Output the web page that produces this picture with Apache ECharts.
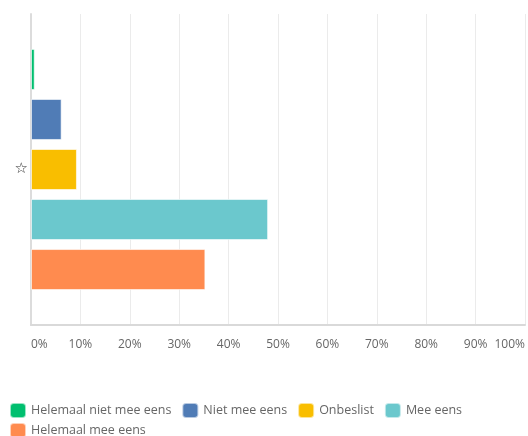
<!DOCTYPE html>
<html>
<head>
<meta charset="utf-8">
<script src="https://cdn.jsdelivr.net/npm/echarts@6/dist/echarts.min.js"></script>
<style>
html,body{margin:0;padding:0;background:#fff;}
#chart{width:528px;height:436px;}
</style>
</head>
<body>
<div id="chart"></div>
<script>
const categories = ['☆'];
const seriesNames = ['Helemaal niet mee eens', 'Niet mee eens', 'Onbeslist', 'Mee eens', 'Helemaal mee eens'];
const seriesValues = [0.75, 6.2, 9.3, 48.0, 35.3];
const seriesColors = ['#00bf6f', '#507cb6', '#f9be00', '#6bc8cd', '#ff8b4f'];
const xTicks = { min: 0, max: 100, interval: 10 };

const chart = echarts.init(document.getElementById('chart'), null, { renderer: 'canvas' });
const font = '"Open Sans", "Noto Sans", sans-serif';
const legendBase = {
  left: 9, padding: 0,
  itemWidth: 16, itemHeight: 15, itemGap: 10,
  icon: 'roundRect',
  textStyle: { fontSize: 12.5, color: '#666', fontFamily: font }
};
chart.setOption({
  animation: false,
  textStyle: { fontFamily: font },
  grid: { left: 31, right: 0, top: 14, bottom: 111, containLabel: false },
  legend: [
    Object.assign({}, legendBase, { top: 402, data: seriesNames.slice(0, 4) }),
    Object.assign({}, legendBase, { top: 422, data: seriesNames.slice(4) })
  ],
  xAxis: {
    type: 'value',
    min: xTicks.min, max: xTicks.max, interval: xTicks.interval,
    axisLine: { show: true, lineStyle: { color: '#d9d9d9', width: 2 } },
    axisTick: { show: false },
    splitLine: { show: true, lineStyle: { color: '#ebebeb', width: 1 } },
    axisLabel: {
      formatter: '{value}%', color: '#666', fontSize: 12, margin: 14,
      alignMinLabel: 'left', alignMaxLabel: 'right'
    }
  },
  yAxis: {
    type: 'category',
    data: categories,
    inverse: true,
    axisLine: { show: true, lineStyle: { color: '#dcdcdc', width: 2 } },
    axisTick: { show: false },
    axisLabel: { color: '#333', fontSize: 15, margin: 3, fontFamily: '"DejaVu Sans", sans-serif' }
  },
  series: seriesNames.map((name, i) => ({
    name: name,
    type: 'bar',
    barWidth: 41,
    barGap: '22%',
    itemStyle: { color: seriesColors[i], borderColor: 'rgba(255,255,255,0.6)', borderWidth: 1 },
    data: [seriesValues[i]]
  }))
});
</script>
</body>
</html>
